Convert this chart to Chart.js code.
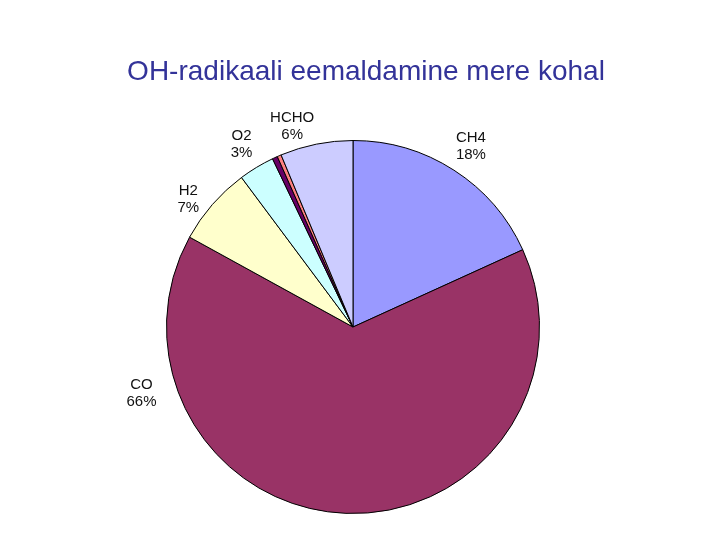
<!DOCTYPE html>
<html>
<head>
<meta charset="utf-8">
<script src="https://cdn.jsdelivr.net/npm/chart.js@4.4.0/dist/chart.umd.min.js"></script>
<style>
  html, body { margin: 0; padding: 0; background: #fff; }
  #wrap { width: 720px; height: 540px; position: relative; }
</style>
</head>
<body>
<div id="wrap"><canvas id="pie-chart"></canvas></div>
<script>
const chartTitle = "OH-radikaali eemaldamine mere kohal";
const categories = ['CH4', 'CO', 'H2', 'O2', 'muu1', 'muu2', 'HCHO'];
const shares = [18.2, 64.8, 6.8, 3.1, 0.45, 0.35, 6.3];
const shareLabels = ['18%', '66%', '7%', '3%', '', '', '6%'];
const sliceColors = ['#9999ff', '#993366', '#ffffcc', '#ccffff', '#660066', '#ff8080', '#ccccff'];

// excel put the labels a bit off the slice middle, so nudge them (degrees from top, gap past rim)
const labelPlace = {
    CH4: [33, 30], CO: [252.7, 35], H2: [307.8, 22], O2: [328.7, 28], HCHO: [343.2, 24]
};

// draws title + outside labels like the old excel chart
const excelLabels = {
    id: 'excelLabels',
    afterDraw(chart) {
        const ctx = chart.ctx;
        ctx.save();
        ctx.fillStyle = '#333399';
        ctx.font = '28px "Liberation Sans", Arial, sans-serif';
        ctx.textAlign = 'center';
        ctx.textBaseline = 'middle';
        ctx.fillText(chartTitle, 366, 72);

        ctx.fillStyle = '#111';
        ctx.font = '15px "Liberation Sans", Arial, sans-serif';
        const meta = chart.getDatasetMeta(0);
        meta.data.forEach((arc, i) => {
            if (!shareLabels[i]) return;
            const p = arc.getProps(['x', 'y', 'startAngle', 'endAngle', 'outerRadius'], true);
            let a = (p.startAngle + p.endAngle) / 2;
            let r = p.outerRadius + 28;
            const place = labelPlace[categories[i]];
            if (place) {
                a = (place[0] - 90) * Math.PI / 180;
                r = p.outerRadius + place[1];
            }
            const lx = p.x + Math.cos(a) * r;
            const ly = p.y + Math.sin(a) * r;
            ctx.fillText(categories[i], lx, ly - 8);
            ctx.fillText(shareLabels[i], lx, ly + 9);
        });
        ctx.restore();
    }
};

const pie = new Chart(document.getElementById('pie-chart').getContext('2d'), {
    type: 'pie',
    data: {
        labels: categories,
        datasets: [{
            data: shares,
            backgroundColor: sliceColors,
            borderColor: '#000',
            borderWidth: 1
        }]
    },
    options: {
        responsive: true,
        maintainAspectRatio: false,
        animation: false,
        layout: {
            padding: { top: 140, bottom: 26, left: 166, right: 180 }
        },
        plugins: {
            legend: { display: false },
            tooltip: { enabled: false }
        }
    },
    plugins: [excelLabels]
});
</script>
</body>
</html>
